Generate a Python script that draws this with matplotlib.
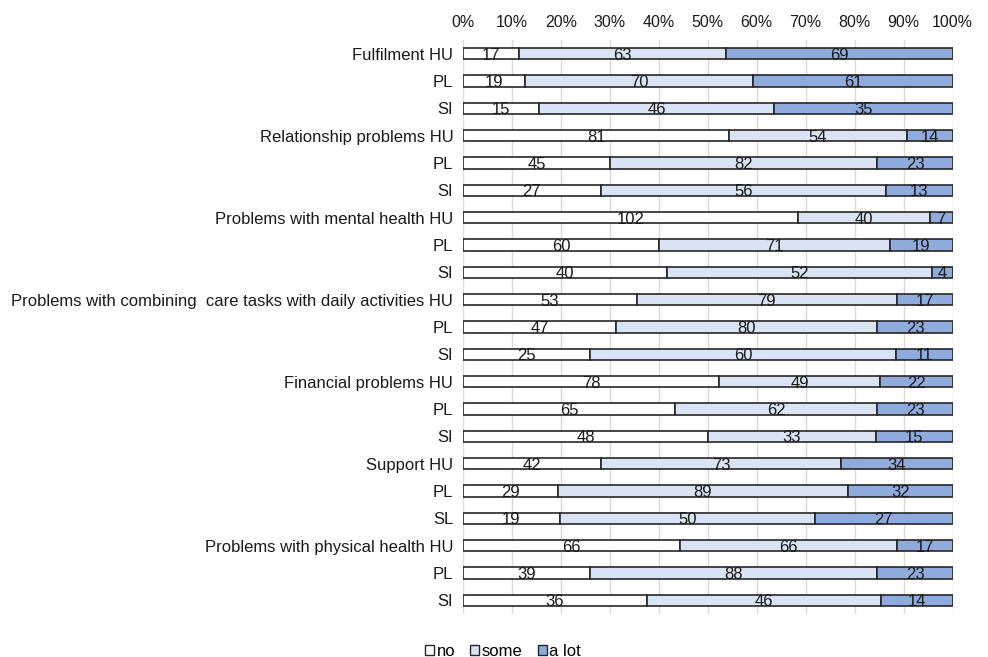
import numpy as np
import matplotlib
matplotlib.use("Agg")
import matplotlib.pyplot as plt
from matplotlib.patches import Patch

plt.rcParams['font.family'] = ['Liberation Sans', 'DejaVu Sans']

# Row labels, top to bottom
labels = [
    'Fulfilment HU', 'PL', 'SI',
    'Relationship problems HU', 'PL', 'SI',
    'Problems with mental health HU', 'PL', 'SI',
    'Problems with combining  care tasks with daily activities HU', 'PL', 'SI',
    'Financial problems HU', 'PL', 'SI',
    'Support HU', 'PL', 'SL',
    'Problems with physical health HU', 'PL', 'SI',
]

# Counts per answer category
no = [17, 19, 15, 81, 45, 27, 102, 60, 40, 53, 47, 25, 78, 65, 48, 42, 29, 19, 66, 39, 36]
some = [63, 70, 46, 54, 82, 56, 40, 71, 52, 79, 80, 60, 49, 62, 33, 73, 89, 50, 66, 88, 46]
a_lot = [69, 61, 35, 14, 23, 13, 7, 19, 4, 17, 23, 11, 22, 23, 15, 34, 32, 27, 17, 23, 14]

series = [('no', no, '#ffffff'), ('some', some, '#dae3f3'), ('a lot', a_lot, '#8faadc')]

counts = np.array([no, some, a_lot], dtype=float)
totals = counts.sum(axis=0)
shares = counts / totals

fig = plt.figure(figsize=(9.88, 6.57), dpi=100)
ax = fig.add_axes([463 / 988, 1 - 614 / 657, (952.5 - 463) / 988, (614 - 40) / 657])

y = np.arange(len(labels))
left = np.zeros(len(labels))
for i, (name, vals, color) in enumerate(series):
    ax.barh(y, shares[i], left=left, height=0.42, color=color,
            edgecolor='#262626', linewidth=1.2, zorder=3)
    for yi, (l, w, v) in enumerate(zip(left, shares[i], vals)):
        ax.text(l + w / 2, yi + 0.06, str(v), ha='center', va='center',
                fontsize=12, color='#1a1a1a', zorder=4)
    left += shares[i]

ax.set_xlim(0, 1)
ax.set_ylim(len(labels) - 0.5, -0.5)
ax.set_xticks(np.linspace(0, 1, 11))
ax.set_xticklabels([f'{int(round(t * 100))}%' for t in np.linspace(0, 1, 11)])
ax.xaxis.tick_top()
ax.set_yticks(y)
ax.set_yticklabels(labels)
ax.tick_params(axis='both', length=0, colors='#1a1a1a')
ax.tick_params(axis='x', pad=7, labelsize=11.5)
ax.tick_params(axis='y', pad=7, labelsize=12)
ax.grid(axis='x', color='#d9d9d9', linewidth=1.0, zorder=0)
for s in ax.spines.values():
    s.set_visible(False)

handles = [Patch(facecolor=c, edgecolor='#262626', linewidth=1.0, label=n) for n, _, c in series]
fig.legend(handles=handles, loc='center', bbox_to_anchor=(503 / 988, 1 - 651 / 657),
           ncol=3, frameon=False, fontsize=12, handlelength=0.55, handleheight=0.55,
           handletextpad=0.15, columnspacing=0.9, borderpad=0)

fig.savefig('out.png', dpi=100)
